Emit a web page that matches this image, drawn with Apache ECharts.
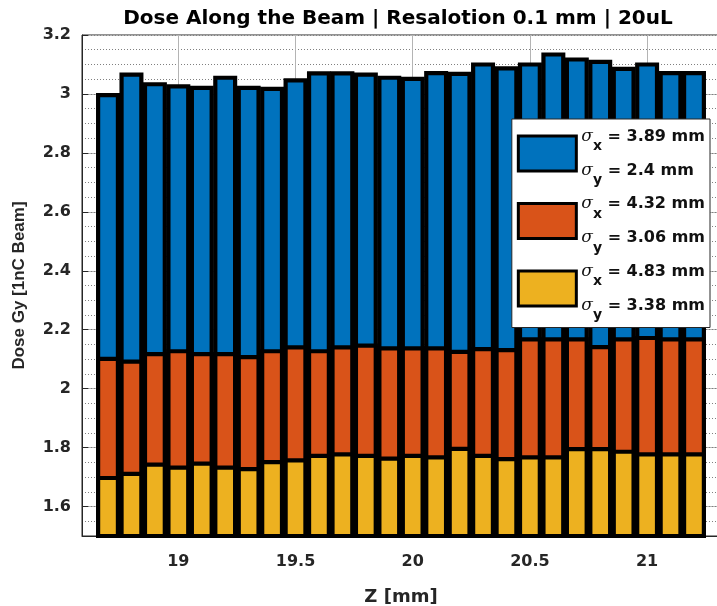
<!DOCTYPE html>
<html>
<head>
<meta charset="utf-8">
<script src="https://cdn.jsdelivr.net/npm/echarts@6/dist/echarts.min.js"></script>
<style>html,body{margin:0;padding:0;background:#fff;}#c{width:717px;height:606px;}</style>
</head>
<body>
<div id="c"></div>
<script>
// ---- data ----
const zPos = [18.7, 18.8, 18.9, 19.0, 19.1, 19.2, 19.3, 19.4, 19.5, 19.6, 19.7, 19.8, 19.9,
              20.0, 20.1, 20.2, 20.3, 20.4, 20.5, 20.6, 20.7, 20.8, 20.9, 21.0, 21.1, 21.2];
const doseBlue = [3.003, 3.073, 3.040, 3.033, 3.028, 3.062, 3.028, 3.024, 3.053, 3.077, 3.077, 3.073, 3.062,
                  3.058, 3.078, 3.075, 3.107, 3.094, 3.107, 3.141, 3.124, 3.116, 3.092, 3.107, 3.078, 3.078];
const doseOrange = [2.108, 2.099, 2.124, 2.134, 2.124, 2.124, 2.114, 2.134, 2.147, 2.134, 2.147, 2.153, 2.144,
                    2.144, 2.144, 2.132, 2.141, 2.138, 2.174, 2.174, 2.174, 2.148, 2.174, 2.179, 2.174, 2.174];
const doseYellow = [1.704, 1.718, 1.749, 1.739, 1.753, 1.739, 1.734, 1.758, 1.764, 1.779, 1.784, 1.779, 1.770,
                    1.779, 1.774, 1.803, 1.779, 1.768, 1.774, 1.774, 1.802, 1.802, 1.793, 1.784, 1.784, 1.784];
const seriesNames = ['s1', 's2', 's3'];
const sigmaX = ['3.89', '4.32', '4.83'];
const sigmaY = ['2.4', '3.06', '3.38'];
const xTicks = [19, 19.5, 20, 20.5, 21];
const yTicks = [1.6, 1.8, 2.0, 2.2, 2.4, 2.6, 2.8, 3.0, 3.2];
const titleText = 'Dose Along the Beam | Resalotion 0.1 mm | 20uL';
const xName = 'Z [mm]';
const yName = 'Dose Gy [1nC Beam]';

const colors = ['#0072BD', '#D95319', '#EDB120'];
const valuesList = [doseBlue, doseOrange, doseYellow];

const chart = echarts.init(document.getElementById('c'), null, {renderer: 'canvas'});
const txt = '#262626';
const bold = {fontFamily: 'DejaVu Sans', fontWeight: 'bold', color: txt};

const series = valuesList.map((vals, i) => ({
  name: seriesNames[i],
  type: 'bar',
  xAxisIndex: 0,
  yAxisIndex: 0,
  barWidth: 24,
  barGap: '-100%',
  clip: true,
  data: zPos.map((z, j) => [z, vals[j]]),
  itemStyle: {color: colors[i], borderColor: '#000', borderWidth: 4.2},
  emphasis: {disabled: true},
  silent: true,
  z: 2 + i
}));

chart.setOption({
  animation: false,
  backgroundColor: '#fff',
  title: {
    text: titleText,
    left: 398,
    top: 9,
    padding: 0,
    textAlign: 'center',
    textStyle: {fontFamily: 'DejaVu Sans', fontWeight: 'bold', fontSize: 20, color: '#000'}
  },
  grid: {
    left: 82, right: -3, top: 35, bottom: 70,
    outerBoundsMode: 'none',
    containLabel: false,
    show: true, backgroundColor: '#fff', borderColor: txt, borderWidth: 1
  },
  xAxis: [{
    type: 'value',
    min: 18.589, max: 21.311,
    name: xName,
    nameLocation: 'middle',
    nameGap: 52,
    nameTextStyle: Object.assign({fontSize: 18}, bold),
    axisLine: {show: true, lineStyle: {color: txt}},
    axisTick: {show: true, inside: true, length: 6, lineStyle: {color: txt}, customValues: xTicks},
    axisLabel: Object.assign({fontSize: 16, margin: 18, customValues: xTicks}, bold),
    splitLine: {show: true, lineStyle: {color: '#b4b4b4', width: 1}}
  }],
  yAxis: [{
    type: 'value',
    min: 1.5, max: 3.2,
    name: yName,
    nameLocation: 'middle',
    nameGap: 54,
    nameTextStyle: {fontFamily: 'Liberation Sans', fontWeight: 'bold', fontSize: 17, color: txt},
    axisLine: {show: true, lineStyle: {color: txt}},
    axisTick: {show: true, inside: true, length: 6, lineStyle: {color: txt}, customValues: yTicks},
    axisLabel: Object.assign({fontSize: 16, margin: 11, customValues: yTicks}, bold),
    splitLine: {show: true, lineStyle: {color: '#b4b4b4', width: 1}}
  }, {
    type: 'value',
    min: 1.5, max: 3.2,
    interval: 0.05,
    position: 'left',
    axisLine: {show: false},
    axisTick: {show: false},
    axisLabel: {show: false},
    splitLine: {show: true, lineStyle: {color: '#808080', width: 1, type: [1, 2]}}
  }],
  legend: {
    show: true,
    orient: 'vertical',
    right: 7,
    top: 119,
    itemWidth: 58,
    itemHeight: 35,
    itemGap: 8,
    padding: [9, 5, 5, 5],
    backgroundColor: '#fff',
    borderColor: txt,
    borderWidth: 1,
    selectedMode: false,
    icon: 'rect',
    itemStyle: {borderColor: '#000', borderWidth: 3},
    data: seriesNames,
    formatter: function (name) {
      const i = seriesNames.indexOf(name);
      return '{sig|σ}{sub|x}{t| = ' + sigmaX[i] + ' mm}\n{sig|σ}{sub|y}{t| = ' + sigmaY[i] + ' mm}';
    },
    textStyle: {
      rich: {
        t: {fontFamily: 'DejaVu Sans', fontWeight: 'bold', fontSize: 16, lineHeight: 34, color: '#111'},
        sig: {fontFamily: 'DejaVu Serif', fontStyle: 'italic', fontSize: 17, lineHeight: 34, color: '#111'},
        sub: {fontFamily: 'DejaVu Sans', fontWeight: 'bold', fontSize: 14, lineHeight: 14, verticalAlign: 'bottom', color: '#111'}
      }
    }
  },
  series: series
});
</script>
</body>
</html>
